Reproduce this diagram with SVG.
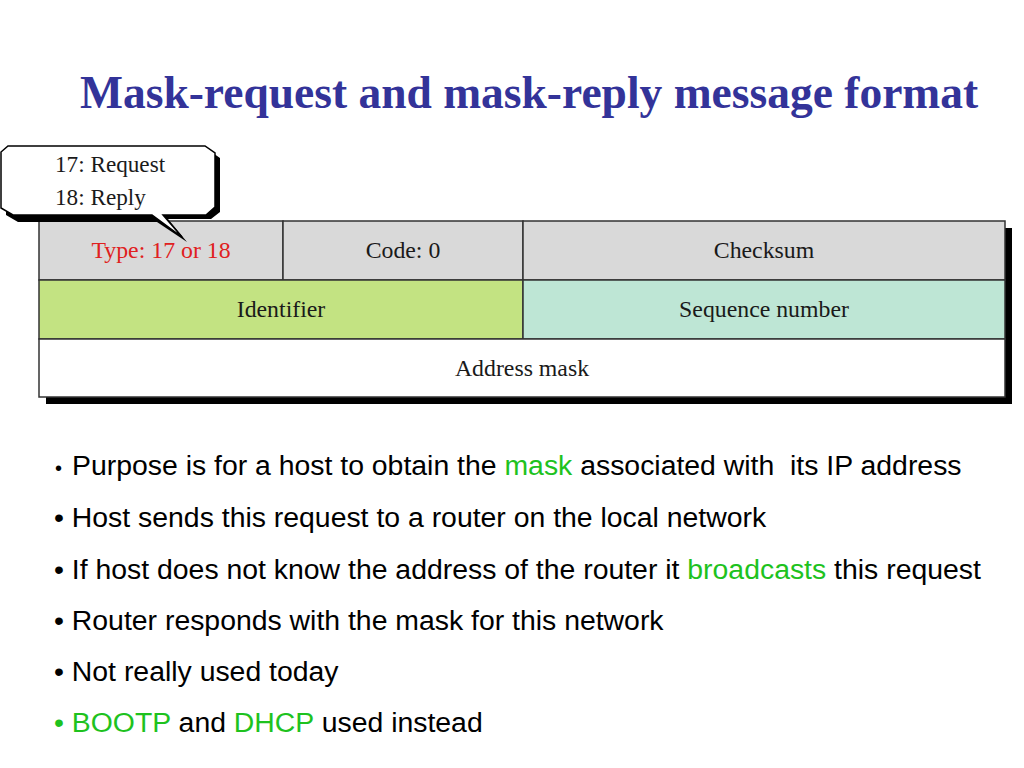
<svg xmlns="http://www.w3.org/2000/svg" width="1024" height="768" viewBox="0 0 1024 768">
<style>
.title{font-family:"Liberation Serif","Times New Roman",serif;font-weight:bold;font-size:45.5px;fill:#333399}
.cell{font-family:"Liberation Serif","Times New Roman",serif;font-size:23.8px;fill:#1a1a1a}
.call{font-family:"Liberation Serif","Times New Roman",serif;font-size:23.2px;fill:#1a1a1a}
.box{stroke:#333;stroke-width:1.5}
.bul{font-family:"Liberation Sans",Arial,sans-serif;font-size:28.4px;fill:#000;white-space:pre}
.g{fill:#1ec21e}
</style>
<rect width="1024" height="768" fill="#fff"/>
<text class="title" x="80" y="108">Mask-request and mask-reply message format</text>

<g id="table">
  <rect x="46" y="228" width="966" height="176" fill="#000"/>
  <rect class="box" x="39" y="221" width="244" height="59" fill="#d9d9d9"/>
  <rect class="box" x="283" y="221" width="240" height="59" fill="#d9d9d9"/>
  <rect class="box" x="523" y="221" width="482" height="59" fill="#d9d9d9"/>
  <rect class="box" x="39" y="280" width="484" height="59" fill="#c3e382"/>
  <rect class="box" x="523" y="280" width="482" height="59" fill="#bee6d5"/>
  <rect class="box" x="39" y="339" width="966" height="58" fill="#fff"/>
  <text class="cell" x="161" y="258" text-anchor="middle" style="fill:#e02020">Type: 17 or 18</text>
  <text class="cell" x="403" y="258" text-anchor="middle">Code: 0</text>
  <text class="cell" x="764" y="258" text-anchor="middle">Checksum</text>
  <text class="cell" x="281" y="317" text-anchor="middle">Identifier</text>
  <text class="cell" x="764" y="317" text-anchor="middle">Sequence number</text>
  <text class="cell" x="522" y="376" text-anchor="middle">Address mask</text>
</g>

<g id="callout">
  <path d="M13,151 L210,151 L220,158 L220,212 L211,219 L168,219 L187,242 L157,222 L18,222 L6,215 L6,157 Z" fill="#000"/>
  <path d="M8,146 L205,146 L215,153 L215,207 L206,215 L163,215 L182,237 L152,215 L13,215 L1,208 L1,152 Z" fill="#fff" stroke="#000" stroke-width="1.5"/>
  <text class="call" x="55" y="172">17: Request</text>
  <text class="call" x="55" y="205">18: Reply</text>
</g>

<g id="bullets">
  <text class="bul" x="55" y="475"><tspan font-size="20">•</tspan></text>
  <text class="bul" x="72" y="475">Purpose is for a host to obtain the <tspan class="g">mask</tspan> associated with  its IP address</text>
  <text class="bul" x="54" y="527">• Host sends this request to a router on the local network</text>
  <text class="bul" x="54" y="579">• If host does not know the address of the router it <tspan class="g">broadcasts</tspan> this request</text>
  <text class="bul" x="54" y="630">• Router responds with the mask for this network</text>
  <text class="bul" x="54" y="681">• Not really used today</text>
  <text class="bul" x="54" y="732"><tspan class="g">• BOOTP</tspan> and <tspan class="g">DHCP</tspan> used instead</text>
</g>
</svg>
